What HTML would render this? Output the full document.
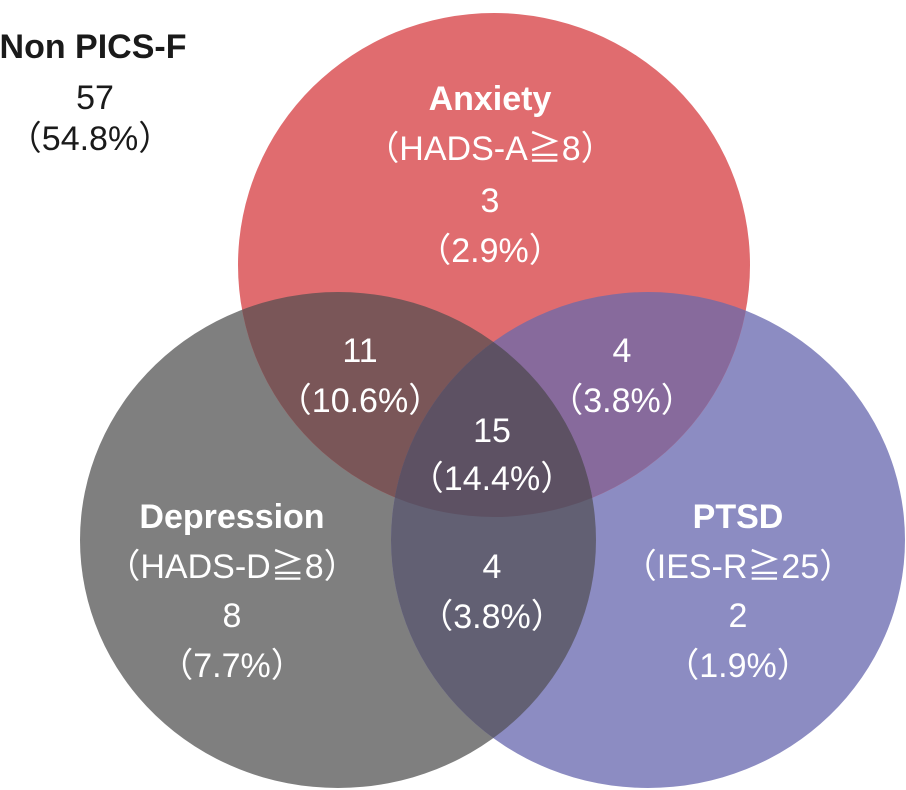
<!DOCTYPE html>
<html><head><meta charset="utf-8"><style>
html,body{margin:0;padding:0;background:#fff;width:906px;height:790px;overflow:hidden}
text{font-family:"Liberation Sans","Noto Sans CJK JP",sans-serif;font-size:34px;text-anchor:middle}
.b{font-weight:bold}
</style></head><body>
<svg width="906" height="790">
<defs>
<clipPath id="cA"><ellipse cx="494" cy="265" rx="256" ry="252"/></clipPath>
<clipPath id="cD"><ellipse cx="338" cy="540" rx="258" ry="248"/></clipPath>
<clipPath id="cP"><ellipse cx="648" cy="540" rx="257" ry="248"/></clipPath>
</defs>
<ellipse cx="338" cy="540" rx="258" ry="248" fill="#7f7f7f"/>
<ellipse cx="648" cy="540" rx="257" ry="248" fill="#8c8cc2"/>
<ellipse cx="494" cy="265" rx="256" ry="252" fill="#e06c6f"/>
<g clip-path="url(#cA)"><ellipse cx="338" cy="540" rx="258" ry="248" fill="#7a5658"/></g>
<g clip-path="url(#cA)"><ellipse cx="648" cy="540" rx="257" ry="248" fill="#876a9c"/></g>
<g clip-path="url(#cD)"><ellipse cx="648" cy="540" rx="257" ry="248" fill="#626073"/></g>
<g clip-path="url(#cA)"><g clip-path="url(#cD)"><ellipse cx="648" cy="540" rx="257" ry="248" fill="#5d5163"/></g></g>

<g fill="#1a1a1a">
<text class="b" x="93" y="58">Non PICS-F</text>
<text x="95" y="109">57</text>
<text x="90" y="150">（54.8%）</text>
</g>
<g fill="#fff">
<g>
<text class="b" x="490" y="110">Anxiety</text>
<text x="490" y="160">（HADS-A≧8）</text>
<text x="490" y="212">3</text>
<text x="490" y="262">（2.9%）</text></g>
<g>
<text x="360" y="362">11</text>
<text x="360" y="412">（10.6%）</text></g>
<g>
<text x="622" y="362">4</text>
<text x="622" y="412">（3.8%）</text></g>
<g>
<text x="492" y="442">15</text>
<text x="492" y="490">（14.4%）</text></g>
<g>
<text class="b" x="232" y="528">Depression</text>
<text x="232" y="578">（HADS-D≧8）</text>
<text x="232" y="627">8</text>
<text x="232" y="677">（7.7%）</text></g>
<g>
<text x="492" y="578">4</text>
<text x="492" y="628">（3.8%）</text></g>
<g>
<text class="b" x="738" y="528">PTSD</text>
<text x="738" y="578">（IES-R≧25）</text>
<text x="738" y="627">2</text>
<text x="738" y="677">（1.9%）</text></g>
</g>
</svg>
</body></html>
